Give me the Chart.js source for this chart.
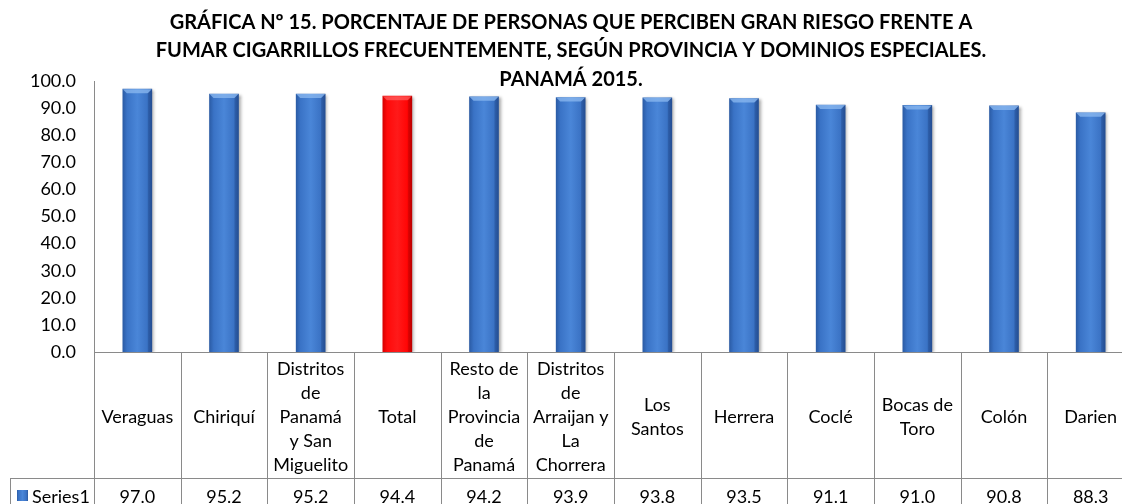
<!DOCTYPE html>
<html><head><meta charset="utf-8">
<script src="https://cdn.jsdelivr.net/npm/chart.js@4.4.1/dist/chart.umd.min.js"></script>
<style>
html,body{margin:0;padding:0;overflow:hidden;background:#fff;width:1122px;height:504px}
#wrap{width:1142px;height:504px;position:relative}
canvas{display:block}
</style></head>
<body><div id="wrap"><canvas id="c" width="1142" height="504"></canvas></div>
<script>
const titleLines = [
  'GRÁFICA Nº 15. PORCENTAJE DE PERSONAS QUE PERCIBEN GRAN RIESGO FRENTE A',
  'FUMAR CIGARRILLOS FRECUENTEMENTE, SEGÚN PROVINCIA Y DOMINIOS ESPECIALES.',
  'PANAMÁ 2015.'
];
const categories = [
  ['Veraguas'],
  ['Chiriquí'],
  ['Distritos','de','Panamá','y San','Miguelito'],
  ['Total'],
  ['Resto de','la','Provincia','de','Panamá'],
  ['Distritos','de','Arraijan y','La','Chorrera'],
  ['Los','Santos'],
  ['Herrera'],
  ['Coclé'],
  ['Bocas de','Toro'],
  ['Colón'],
  ['Darien']
];
const seriesName = 'Series1';
const values = [97.0, 95.2, 95.2, 94.4, 94.2, 93.9, 93.8, 93.5, 91.1, 91.0, 90.8, 88.3];
const highlightCategory = 'Total';
const yMin = 0, yMax = 100, yStep = 10;

const FONT = 'Lato';
const gridColor = '#8a8a8a';

function barFill(ctx, x0, w, isRed) {
  const g = ctx.createLinearGradient(x0, 0, x0 + w, 0);
  if (isRed) {
    g.addColorStop(0, '#d80000'); g.addColorStop(0.15, '#ff0a0a');
    g.addColorStop(0.5, '#ff1a1a'); g.addColorStop(0.85, '#ff0505'); g.addColorStop(1, '#c80000');
  } else {
    g.addColorStop(0, '#2b5ca6'); g.addColorStop(0.15, '#3a73c6');
    g.addColorStop(0.5, '#4a86d8'); g.addColorStop(0.85, '#3a72c4'); g.addColorStop(1, '#2a579e');
  }
  return g;
}

const barPlugin = {
  id: 'barStyle',
  beforeDatasetsDraw(chart) {
    const c = chart.ctx; c.save();
    c.shadowColor = 'rgba(0,0,0,0.35)'; c.shadowBlur = 3; c.shadowOffsetX = 2; c.shadowOffsetY = 1;
  },
  afterDatasetsDraw(chart) {
    const c = chart.ctx; c.restore();
    const meta = chart.getDatasetMeta(0);
    c.save();
    meta.data.forEach((el, i) => {
      const red = categories[i].join(' ') === highlightCategory;
      const l = el.x - el.width / 2, r = el.x + el.width / 2, t = el.y;
      const b = 4;
      c.fillStyle = red ? 'rgba(255,120,120,0.55)' : 'rgba(140,185,240,0.75)';
      c.beginPath(); c.moveTo(l, t); c.lineTo(r, t); c.lineTo(r - b, t + b); c.lineTo(l + b, t + b); c.closePath(); c.fill();
      c.fillStyle = red ? 'rgba(150,0,0,0.25)' : 'rgba(20,50,110,0.25)';
      c.beginPath(); c.moveTo(r, t); c.lineTo(r, chart.chartArea.bottom); c.lineTo(r - b, chart.chartArea.bottom); c.lineTo(r - b, t + b); c.closePath(); c.fill();
    });
    c.restore();
  }
};

const titlePlugin = {
  id: 'xlTitle',
  afterDraw(chart) {
    const c = chart.ctx; c.save();
    c.fillStyle = '#000'; c.textAlign = 'center'; c.textBaseline = 'middle';
    c.font = 'bold 20px ' + FONT;
    const ys = [23, 51, 80];
    titleLines.forEach((t, i) => c.fillText(t, chart.width / 2, ys[i]));
    c.restore();
  }
};

const tablePlugin = {
  id: 'dataTable',
  afterDraw(chart) {
    const c = chart.ctx, xs = chart.scales.x, a = chart.chartArea;
    const n = categories.length, colW = (a.right - a.left) / n;
    const top = a.bottom, mid = top + 126, bot = mid + 38, leftX = 10;
    c.save();
    c.strokeStyle = gridColor; c.lineWidth = 1;
    const h = (x1, x2, y) => { c.beginPath(); c.moveTo(x1, Math.round(y) + 0.5); c.lineTo(x2, Math.round(y) + 0.5); c.stroke(); };
    const v = (x, y1, y2) => { c.beginPath(); c.moveTo(Math.round(x) + 0.5, y1); c.lineTo(Math.round(x) + 0.5, y2); c.stroke(); };
    h(a.left, a.right, top); h(leftX, a.right, mid); h(leftX, a.right, bot);
    for (let i = 0; i <= n; i++) {
      const x = i < n ? xs.getPixelForValue(i) - colW / 2 : xs.getPixelForValue(n - 1) + colW / 2;
      v(x, top, bot);
    }
    v(leftX, mid, bot);
    c.fillStyle = '#000'; c.textAlign = 'center'; c.textBaseline = 'middle';
    c.font = '18px ' + FONT;
    const lh = 24, cy = (top + mid) / 2 + 2;
    categories.forEach((lines, i) => {
      const x = xs.getPixelForValue(i);
      const y0 = cy - (lines.length - 1) * lh / 2;
      lines.forEach((t, k) => c.fillText(t, x, y0 + k * lh));
    });
    const vy = mid + 19;
    values.forEach((val, i) => c.fillText(val.toFixed(1), xs.getPixelForValue(i), vy));
    c.fillStyle = barFill(c, 17, 11, false);
    c.fillRect(17, vy - 7, 11, 11);
    c.fillStyle = '#000'; c.textAlign = 'left';
    c.fillText(seriesName, 32, vy);
    c.restore();
  }
};

new Chart(document.getElementById('c'), {
  type: 'bar',
  data: {
    labels: categories.map(l => l.join(' ')),
    datasets: [{
      label: seriesName,
      data: values,
      backgroundColor: (ctx) => {
        const chart = ctx.chart, a = chart.chartArea;
        const red = ctx.dataIndex !== undefined && categories[ctx.dataIndex].join(' ') === highlightCategory;
        if (!a || !chart.scales.x) return red ? '#ff0000' : '#3f7dd0';
        const x = chart.scales.x.getPixelForValue(ctx.dataIndex);
        return barFill(chart.ctx, x - 14.5, 29, red);
      },
      borderWidth: 0,
      barThickness: 29
    }]
  },
  options: {
    responsive: false,
    animation: false,
    devicePixelRatio: 1,
    layout: { padding: { left: 0, right: 8, top: 81, bottom: 152 } },
    plugins: { legend: { display: false }, title: { display: false }, tooltip: { enabled: false } },
    scales: {
      x: { display: false, offset: true, grid: { display: false } },
      y: {
        min: yMin, max: yMax,
        afterFit(axis) { axis.width = 94; },
        ticks: { stepSize: yStep, padding: 18, color: '#000', font: { family: FONT, size: 18 },
                 callback: v => Number(v).toFixed(1) },
        grid: { display: false, drawTicks: false },
        border: { display: true, color: gridColor, width: 1 }
      }
    }
  },
  plugins: [barPlugin, titlePlugin, tablePlugin]
});
</script>
</body></html>
